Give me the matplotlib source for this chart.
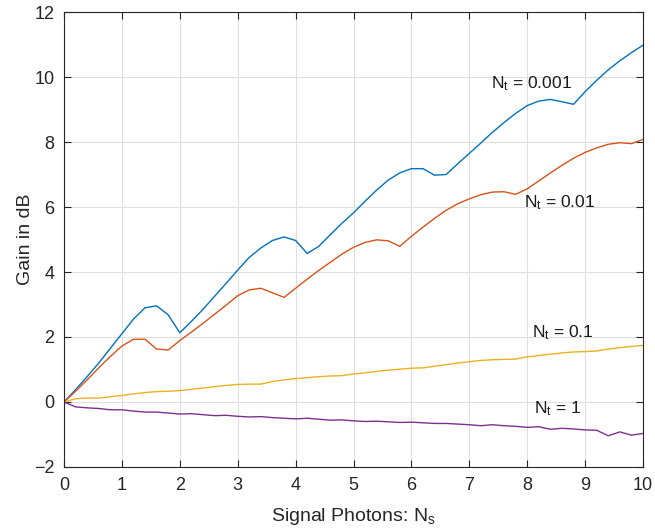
import numpy as np
import matplotlib
matplotlib.use("Agg")
import matplotlib.pyplot as plt

plt.rcParams['font.family'] = ['Liberation Sans', 'DejaVu Sans']
plt.rcParams['mathtext.fontset'] = 'custom'
plt.rcParams['mathtext.rm'] = 'Liberation Sans'
plt.rcParams['mathtext.it'] = 'Liberation Sans'

# Signal photon numbers
ns = np.round(np.arange(0, 10.0001, 0.2), 1)

gain_nt_0001 = [0, 0.38, 0.78, 1.2, 1.65, 2.1, 2.55, 2.9, 2.96, 2.68, 2.13,
                2.48, 2.85, 3.25, 3.65, 4.06, 4.45, 4.74, 4.97, 5.08, 4.97,
                4.57, 4.79, 5.15, 5.5, 5.82, 6.18, 6.52, 6.83, 7.05, 7.18,
                7.18, 6.98, 7.0, 7.33, 7.65, 7.97, 8.3, 8.6, 8.88, 9.12,
                9.26, 9.31, 9.24, 9.16, 9.55, 9.9, 10.22, 10.5, 10.75, 10.98]
gain_nt_001 = [0, 0.33, 0.68, 1.05, 1.4, 1.72, 1.93, 1.93, 1.63, 1.6, 1.89,
               2.15, 2.42, 2.7, 2.98, 3.27, 3.45, 3.5, 3.36, 3.22, 3.5,
               3.78, 4.05, 4.3, 4.55, 4.76, 4.91, 4.99, 4.96, 4.79, 5.1,
               5.38, 5.65, 5.9, 6.1, 6.25, 6.38, 6.46, 6.47, 6.39, 6.56,
               6.8, 7.05, 7.28, 7.5, 7.68, 7.82, 7.93, 7.98, 7.95, 8.08]
gain_nt_01 = [0, 0.1, 0.12, 0.12, 0.16, 0.2, 0.25, 0.29, 0.32, 0.33, 0.35,
              0.39, 0.43, 0.47, 0.51, 0.54, 0.55, 0.55, 0.63, 0.68, 0.72,
              0.75, 0.78, 0.8, 0.81, 0.86, 0.9, 0.94, 0.98, 1.01, 1.04,
              1.05, 1.1, 1.15, 1.2, 1.24, 1.28, 1.3, 1.31, 1.32, 1.39,
              1.43, 1.47, 1.51, 1.54, 1.55, 1.57, 1.63, 1.67, 1.71, 1.74]
gain_nt_1 = [0, -0.15, -0.18, -0.2, -0.24, -0.24, -0.28, -0.31, -0.31, -0.34, -0.37,
             -0.36, -0.39, -0.42, -0.41, -0.44, -0.46, -0.45, -0.48, -0.5, -0.52,
             -0.5, -0.53, -0.56, -0.55, -0.58, -0.6, -0.59, -0.61, -0.63, -0.62,
             -0.64, -0.66, -0.66, -0.68, -0.7, -0.73, -0.7, -0.73, -0.75, -0.78,
             -0.76, -0.84, -0.81, -0.83, -0.86, -0.87, -1.04, -0.92, -1.02, -0.97]

series = [gain_nt_0001, gain_nt_001, gain_nt_01, gain_nt_1]
colors = ['#0072BD', '#D95319', '#EDB120', '#7E2F8E']
labels = [r'N$_\mathregular{t}$ = 0.001', r'N$_\mathregular{t}$ = 0.01',
          r'N$_\mathregular{t}$ = 0.1', r'N$_\mathregular{t}$ = 1']
label_pos = [(7.38, 9.8), (7.95, 6.14), (8.09, 2.14), (8.11, -0.22)]

fig = plt.figure(figsize=(6.55, 5.32), dpi=100)
ax = fig.add_axes([0.0977, 0.1222, 0.884, 0.8552])

for y, c in zip(series, colors):
    ax.plot(ns, y, color=c, lw=1.0)

for txt, (tx, ty) in zip(labels, label_pos):
    ax.text(tx, ty, txt, fontsize=12.5, color='#1a1a1a', ha='left', va='center')

ax.set_xlim(0, 10)
ax.set_ylim(-2, 12)
ax.set_xticks(np.arange(0, 11, 1))
ax.set_yticks(np.arange(-2, 13, 2))
ax.grid(True, color='#dfdfdf', lw=0.8)
ax.set_axisbelow(True)

axis_color = '#262626'
for s in ax.spines.values():
    s.set_color(axis_color)
    s.set_linewidth(0.8)
ax.tick_params(direction='in', length=5, width=0.8, colors=axis_color,
               labelsize=13, top=True, right=True, pad=7)

ax.set_xlabel(r'Signal Photons: N$_\mathregular{s}$', fontsize=14, color=axis_color, labelpad=9)
ax.set_ylabel('Gain in dB', fontsize=14, color=axis_color, labelpad=0)

fig.savefig('out.png', dpi=100)
